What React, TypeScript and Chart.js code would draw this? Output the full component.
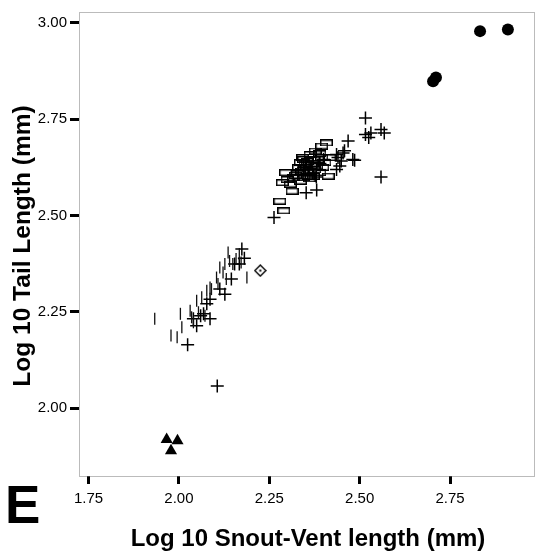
import React, { useEffect, useRef } from "react";
import { Chart, registerables } from "chart.js";

Chart.register(...registerables);

// ---------- data ----------
const xTicks = [1.75, 2.0, 2.25, 2.5, 2.75];
const yTicks = [2.0, 2.25, 2.5, 2.75, 3.0];

// vertical-bar markers (small species cluster)
const barX = [1.933, 2.004, 1.978, 1.995, 2.008, 2.031, 2.049, 2.063, 2.077, 2.086, 2.09, 2.104, 2.113, 2.122, 2.131, 2.14, 2.149, 2.158, 2.167, 2.172, 2.188, 2.136, 2.035, 2.04, 2.054, 2.072, 2.108, 2.127];
const barY = [2.232, 2.245, 2.189, 2.184, 2.21, 2.253, 2.279, 2.288, 2.305, 2.313, 2.309, 2.339, 2.365, 2.352, 2.335, 2.382, 2.374, 2.387, 2.4, 2.378, 2.339, 2.404, 2.236, 2.223, 2.249, 2.24, 2.322, 2.374];

// plus markers
const plusX = [2.106, 2.024, 2.174, 2.181, 2.167, 2.145, 2.113, 2.127, 2.086, 2.077, 2.068, 2.086, 2.04, 2.049, 2.154, 2.06,
  2.516, 2.516, 2.531, 2.559, 2.568, 2.525, 2.559, 2.468, 2.454, 2.449, 2.481, 2.436, 2.445, 2.381, 2.352, 2.436, 2.486, 2.263, 2.44, 2.458,
  2.36, 2.37, 2.39, 2.35, 2.4, 2.33, 2.38, 2.345];
const plusY = [2.058, 2.165, 2.413, 2.389, 2.374, 2.335, 2.309, 2.296, 2.283, 2.271, 2.245, 2.232, 2.232, 2.214, 2.374, 2.24,
  2.753, 2.71, 2.714, 2.723, 2.714, 2.702, 2.6, 2.693, 2.662, 2.641, 2.645, 2.619, 2.628, 2.566, 2.559, 2.658, 2.643, 2.495, 2.65, 2.668,
  2.62, 2.61, 2.635, 2.605, 2.645, 2.615, 2.6, 2.625];

// open rectangle markers
const rectX = [2.279, 2.29, 2.286, 2.295, 2.313, 2.308, 2.336, 2.345, 2.363, 2.377, 2.395, 2.408, 2.413, 2.39, 2.372, 2.327, 2.354, 2.299, 2.318, 2.381, 2.404, 2.417, 2.336, 2.358, 2.372, 2.331, 2.349, 2.395, 2.363, 2.345,
  2.34, 2.368, 2.385, 2.355, 2.322, 2.376, 2.398, 2.342, 2.36, 2.39];
const rectY = [2.537, 2.512, 2.585, 2.611, 2.563, 2.581, 2.637, 2.645, 2.658, 2.667, 2.68, 2.688, 2.602, 2.611, 2.602, 2.611, 2.624, 2.593, 2.598, 2.628, 2.637, 2.65, 2.589, 2.602, 2.645, 2.624, 2.633, 2.65, 2.615, 2.598,
  2.615, 2.635, 2.645, 2.64, 2.604, 2.618, 2.625, 2.65, 2.595, 2.66];

// diamond marker
const diamondX = [2.225];
const diamondY = [2.357];

// filled triangles
const triX = [1.966, 1.996, 1.978];
const triY = [1.919, 1.916, 1.89];

// filled circles
const dotX = [2.833, 2.91, 2.703, 2.711];
const dotY = [2.978, 2.982, 2.848, 2.858];

const X_MIN = 1.7235;
const X_MAX = 2.985;
const Y_MIN = 1.8244;
const Y_MAX = 3.0276;

const pts = (xs: number[], ys: number[]) => xs.map((x, i) => ({ x, y: ys[i] }));

function makeRectIcon(): HTMLCanvasElement {
  const c = document.createElement("canvas");
  c.width = 13;
  c.height = 7;
  const g = c.getContext("2d")!;
  g.strokeStyle = "#000";
  g.lineWidth = 1.5;
  g.strokeRect(0.75, 0.75, 11.5, 5.5);
  return c;
}

function makeDiamondIcon(): HTMLCanvasElement {
  const c = document.createElement("canvas");
  c.width = 13;
  c.height = 13;
  const g = c.getContext("2d")!;
  g.strokeStyle = "#000";
  g.lineWidth = 1.4;
  g.beginPath();
  g.moveTo(6.5, 1);
  g.lineTo(12, 6.5);
  g.lineTo(6.5, 12);
  g.lineTo(1, 6.5);
  g.closePath();
  g.stroke();
  g.fillStyle = "#000";
  g.fillRect(5.5, 5.5, 2, 2);
  return c;
}

const framePlugin = {
  id: "frameAndText",
  afterDraw(chart: any) {
    const { ctx, chartArea } = chart;
    const { left, right, top, bottom } = chartArea;
    ctx.save();
    ctx.strokeStyle = "#777";
    ctx.lineWidth = 1;
    ctx.setLineDash([1, 1]);
    ctx.strokeRect(left + 0.5, top + 0.5, right - left - 1, bottom - top);
    ctx.setLineDash([]);

    ctx.fillStyle = "#000";
    // x-axis title
    ctx.font = "bold 24px 'Liberation Sans', Arial, sans-serif";
    ctx.textAlign = "center";
    ctx.textBaseline = "alphabetic";
    ctx.fillText("Log 10 Snout-Vent length (mm)", 308, 546);

    // y-axis title
    ctx.save();
    ctx.translate(30, 246);
    ctx.rotate(-Math.PI / 2);
    ctx.font = "bold 24.5px 'Liberation Sans', Arial, sans-serif";
    ctx.fillText("Log 10 Tail Length (mm)", 0, 0);
    ctx.restore();

    // panel letter
    ctx.font = "bold 53px 'Liberation Sans', Arial, sans-serif";
    ctx.textAlign = "left";
    ctx.fillText("E", 5, 523);
    ctx.restore();
  },
};

export default function App() {
  const ref = useRef<HTMLCanvasElement | null>(null);

  useEffect(() => {
    if (!ref.current) return;
    const rectIcon = makeRectIcon();
    const diamondIcon = makeDiamondIcon();
    const tickFont = { family: "'Liberation Sans', Arial, sans-serif", size: 15 };

    const chart = new Chart(ref.current, {
      type: "scatter",
      data: {
        datasets: [
          {
            label: "bars",
            data: pts(barX, barY),
            pointStyle: "line",
            rotation: 90,
            radius: 6,
            borderWidth: 1.3,
            borderColor: "#111",
            backgroundColor: "#111",
          },
          {
            label: "rects",
            data: pts(rectX, rectY),
            pointStyle: rectIcon as any,
            radius: 6,
          },
          {
            label: "plus",
            data: pts(plusX, plusY),
            pointStyle: "cross",
            radius: 6.5,
            borderWidth: 1.5,
            borderColor: "#000",
            backgroundColor: "#000",
          },
          {
            label: "diamond",
            data: pts(diamondX, diamondY),
            pointStyle: diamondIcon as any,
            radius: 6,
          },
          {
            label: "triangles",
            data: pts(triX, triY),
            pointStyle: "triangle",
            radius: 7,
            borderWidth: 0,
            backgroundColor: "#000",
            borderColor: "#000",
          },
          {
            label: "dots",
            data: pts(dotX, dotY),
            pointStyle: "circle",
            radius: 6,
            borderWidth: 0,
            backgroundColor: "#000",
            borderColor: "#000",
          },
        ],
      },
      options: {
        animation: false,
        responsive: false,
        events: [],
        layout: { padding: { top: 10, right: 2, left: 0, bottom: 0 } },
        plugins: {
          legend: { display: false },
          tooltip: { enabled: false },
        },
        scales: {
          x: {
            type: "linear",
            min: X_MIN,
            max: X_MAX,
            afterBuildTicks: (scale: any) => {
              scale.ticks = xTicks.map((v) => ({ value: v }));
            },
            afterFit: (scale: any) => {
              scale.height = 78;
            },
            border: { display: false },
            grid: {
              drawOnChartArea: false,
              drawTicks: true,
              tickLength: 8,
              lineWidth: 3,
              tickWidth: 3,
              color: "#000",
              tickColor: "#000",
            },
            ticks: {
              font: tickFont,
              color: "#000",
              padding: 6,
              maxRotation: 0,
              autoSkip: false,
              callback: (v: any) => Number(v).toFixed(2),
            },
          },
          y: {
            type: "linear",
            min: Y_MIN,
            max: Y_MAX,
            afterBuildTicks: (scale: any) => {
              scale.ticks = yTicks.map((v) => ({ value: v }));
            },
            afterFit: (scale: any) => {
              scale.width = 79;
            },
            border: { display: false },
            grid: {
              drawOnChartArea: false,
              drawTicks: true,
              tickLength: 9,
              lineWidth: 3,
              tickWidth: 3,
              color: "#000",
              tickColor: "#000",
            },
            ticks: {
              font: tickFont,
              color: "#000",
              padding: 3,
              autoSkip: false,
              callback: (v: any) => Number(v).toFixed(2),
            },
          },
        },
      },
      plugins: [framePlugin],
    });
    return () => chart.destroy();
  }, []);

  return (
    <div style={{ position: "absolute", left: 0, top: 0, width: 543, height: 554, background: "#fff" }}>
      <canvas ref={ref} width={543} height={554} style={{ width: 543, height: 554, display: "block" }} />
    </div>
  );
}
